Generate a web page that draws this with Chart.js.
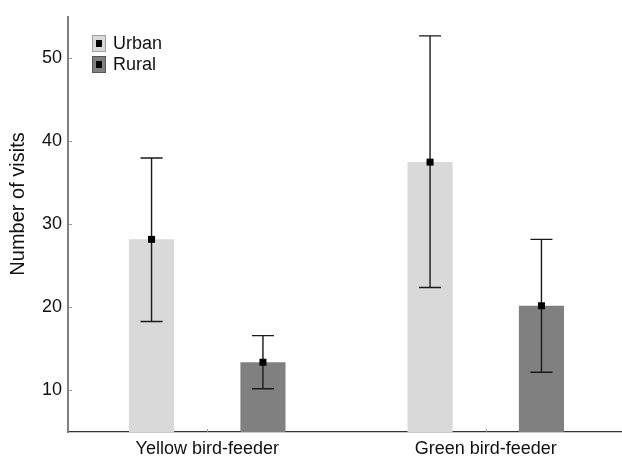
<!DOCTYPE html>
<html>
<head>
<meta charset="utf-8">
<script src="https://cdn.jsdelivr.net/npm/chart.js@4/dist/chart.umd.min.js"></script>
<style>
html,body{margin:0;padding:0;background:#fff;overflow:hidden;}
#wrap{width:626px;height:457px;}
</style>
</head>
<body>
<div id="wrap"><canvas id="c" width="626" height="457"></canvas></div>
<script>
const categories = ['Yellow bird-feeder', 'Green bird-feeder'];
const seriesNames = ['Urban', 'Rural'];
const urbanMean = [28.2, 37.5];
const urbanLow  = [18.3, 22.4];
const urbanHigh = [38.0, 52.7];
const ruralMean = [13.4, 20.2];
const ruralLow  = [10.2, 12.2];
const ruralHigh = [16.6, 28.2];
const yTicks = [10, 20, 30, 40, 50];
const yTitle = 'Number of visits';

const errLow = [urbanLow, ruralLow];
const errHigh = [urbanHigh, ruralHigh];
const FONT = "'Liberation Sans', Arial, sans-serif";

const errorBarPlugin = {
  id: 'errorBars',
  afterDatasetsDraw(chart) {
    const ctx = chart.ctx;
    const y = chart.scales.y;
    chart.data.datasets.forEach((ds, di) => {
      const meta = chart.getDatasetMeta(di);
      meta.data.forEach((bar, i) => {
        const x = bar.x;
        const yl = y.getPixelForValue(errLow[di][i]);
        const yh = y.getPixelForValue(errHigh[di][i]);
        const ym = y.getPixelForValue(ds.data[i]);
        ctx.save();
        ctx.strokeStyle = '#1a1a1a';
        ctx.lineWidth = 1.4;
        ctx.beginPath();
        ctx.moveTo(x, yh); ctx.lineTo(x, yl);
        ctx.moveTo(x - 11, yh); ctx.lineTo(x + 11, yh);
        ctx.moveTo(x - 11, yl); ctx.lineTo(x + 11, yl);
        ctx.stroke();
        ctx.fillStyle = '#000';
        ctx.fillRect(x - 3.5, ym - 3.5, 7, 7);
        ctx.restore();
      });
    });
  }
};

const decorPlugin = {
  id: 'decor',
  afterDraw(chart) {
    const ctx = chart.ctx;
    const area = chart.chartArea;
    // legend inside plot
    const borders = ['#a0a0a0', '#555555'];
    chart.data.datasets.forEach((ds, di) => {
      const bx = 92, by = 35 + di * 21, bw = 14, bh = 17;
      ctx.save();
      ctx.fillStyle = ds.backgroundColor;
      ctx.fillRect(bx, by, bw, bh);
      ctx.strokeStyle = borders[di];
      ctx.lineWidth = 1;
      ctx.strokeRect(bx + 0.5, by + 0.5, bw - 1, bh - 1);
      ctx.fillStyle = '#000';
      ctx.fillRect(bx + 4, by + 5, 6, 7);
      ctx.fillStyle = '#111';
      ctx.font = '18px ' + FONT;
      ctx.textBaseline = 'middle';
      ctx.textAlign = 'left';
      ctx.fillText(ds.label, 113, by + 9);
      ctx.restore();
    });
    // small inward tick marks
    ctx.save();
    ctx.strokeStyle = '#999';
    ctx.lineWidth = 1;
    ctx.beginPath();
    chart.scales.y.ticks.forEach(t => {
      const py = Math.round(chart.scales.y.getPixelForValue(t.value)) + 0.5;
      ctx.moveTo(area.left + 1, py); ctx.lineTo(area.left + 4, py);
    });
    categories.forEach((c, i) => {
      const px = Math.round(chart.scales.x.getPixelForValue(i)) + 0.5;
      ctx.moveTo(px, area.bottom); ctx.lineTo(px, area.bottom - 3);
    });
    ctx.stroke();
    // y axis title
    ctx.translate(18, 204);
    ctx.rotate(-Math.PI / 2);
    ctx.fillStyle = '#111';
    ctx.font = '20px ' + FONT;
    ctx.textAlign = 'center';
    ctx.textBaseline = 'middle';
    ctx.fillText(yTitle, 0, 0);
    ctx.restore();
  }
};

new Chart(document.getElementById('c'), {
  type: 'bar',
  data: {
    labels: categories,
    datasets: [
      { label: seriesNames[0], data: urbanMean, backgroundColor: '#d9d9d9', borderWidth: 0,
        categoryPercentage: 0.8, barPercentage: 0.405 },
      { label: seriesNames[1], data: ruralMean, backgroundColor: '#808080', borderWidth: 0,
        categoryPercentage: 0.8, barPercentage: 0.405 }
    ]
  },
  options: {
    responsive: false,
    animation: false,
    devicePixelRatio: 1,
    layout: { padding: { top: 15, right: 1, left: 0, bottom: 0 } },
    plugins: { legend: { display: false }, tooltip: { enabled: false } },
    scales: {
      x: {
        grid: { display: false, drawTicks: false },
        border: { color: '#333', width: 1.2 },
        ticks: { color: '#111', font: { size: 18, family: FONT }, padding: 6, maxRotation: 0 },
        afterFit(s) { s.height = 25; }
      },
      y: {
        min: 5, max: 55,
        grid: { display: false, drawTicks: false },
        border: { color: '#808080', width: 2 },
        afterBuildTicks(s) { s.ticks = yTicks.map(v => ({ value: v })); },
        ticks: { color: '#111', font: { size: 18, family: FONT }, padding: 6 },
        title: { display: false },
        afterFit(s) { s.width = 68; }
      }
    }
  },
  plugins: [errorBarPlugin, decorPlugin]
});
</script>
</body>
</html>
